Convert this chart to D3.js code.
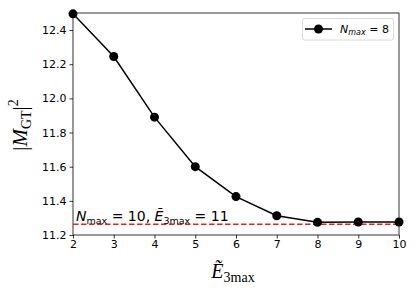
<!DOCTYPE html>
<html><head><meta charset="utf-8">
<script src="https://cdn.jsdelivr.net/npm/d3@7"></script>
<style>body{margin:0;background:#fff}svg{display:block}text{font-family:"DejaVu Sans",sans-serif}</style>
</head><body><svg id="c" width="415" height="294"></svg>
<script>
const e3max = [2,3,4,5,6,7,8,9,10];
const mgt2 = [12.495,12.245,11.89,11.60,11.425,11.313,11.274,11.276,11.276];
const refValue = 11.263;
const xTicks = [2,3,4,5,6,7,8,9,10];
const yTicks = [11.2,11.4,11.6,11.8,12.0,12.2,12.4];

const svg = d3.select("#c");
const L=73,R=399,T=13,B=235;
const x = d3.scaleLinear().domain([2,10]).range([L,R]);
const y = d3.scaleLinear().domain([11.2,12.5]).range([B,T]);

const xa = svg.append("g").attr("transform",`translate(0,${B})`)
  .call(d3.axisBottom(x).tickValues(xTicks).tickFormat(d3.format("d")).tickSize(3.5).tickPadding(2));
const ya = svg.append("g").attr("transform",`translate(${L},0)`)
  .call(d3.axisLeft(y).tickValues(yTicks).tickFormat(d3.format(".1f")).tickSize(3.5).tickPadding(3));
[xa,ya].forEach(a=>{a.selectAll("text").attr("font-size",11).attr("fill","#000").style("font-family","DejaVu Sans");
  a.select(".domain").remove(); a.selectAll("line").attr("stroke","#000").attr("stroke-width",0.8);});
svg.append("rect").attr("x",L).attr("y",T).attr("width",R-L).attr("height",B-T)
  .attr("fill","none").attr("stroke","#000").attr("stroke-width",0.8);

const g = svg.append("g");
g.append("line").attr("x1",x(2)).attr("x2",x(10)).attr("y1",y(refValue)).attr("y2",y(refValue))
  .attr("stroke","#e8201b").attr("stroke-width",1.5).attr("stroke-dasharray","5.5,2.5");
g.append("path").datum(e3max.map((d,i)=>[d,mgt2[i]]))
  .attr("d",d3.line().x(d=>x(d[0])).y(d=>y(d[1])))
  .attr("fill","none").attr("stroke","#000").attr("stroke-width",1.5);
g.selectAll("circle").data(e3max).join("circle")
  .attr("cx",d=>x(d)).attr("cy",(d,i)=>y(mgt2[i])).attr("r",4.5).attr("fill","#000");

// annotation
const ann = svg.append("text").attr("x",76).attr("y",221).attr("font-size",14).attr("fill","#000");
ann.append("tspan").attr("font-style","italic").text("N");
ann.append("tspan").attr("font-size",9.5).attr("dy",2.5).text("max");
ann.append("tspan").attr("dy",-2.5).text(" = 10, ");
ann.append("tspan").attr("font-style","italic").text("Ẽ");
ann.append("tspan").attr("font-size",9.5).attr("dy",2.5).text("3max");
ann.append("tspan").attr("dy",-2.5).text(" = 11");

// legend
svg.append("rect").attr("x",302.5).attr("y",18.5).attr("width",91).attr("height",21.5).attr("rx",2)
  .attr("fill","#fff").attr("stroke","#d0d0d0").attr("stroke-width",0.8);
svg.append("line").attr("x1",305).attr("x2",332).attr("y1",29).attr("y2",29).attr("stroke","#000").attr("stroke-width",1.5);
svg.append("circle").attr("cx",318.5).attr("cy",29).attr("r",4.5).attr("fill","#000");
const lt = svg.append("text").attr("x",340).attr("y",33).attr("font-size",11).attr("fill","#000");
lt.append("tspan").attr("font-style","italic").text("N");
lt.append("tspan").attr("font-style","italic").attr("font-size",8).attr("dy",2).text("max");
lt.append("tspan").attr("dy",-2).text(" = 8");

// axis labels
const yl = svg.append("text").attr("transform","translate(27,125) rotate(-90)").attr("text-anchor","middle")
  .attr("font-size",21).attr("fill","#000").style("font-family","'Liberation Serif',serif");
yl.append("tspan").text("|");
yl.append("tspan").attr("font-style","italic").text("M");
yl.append("tspan").attr("font-size",14).attr("dy",4).text("GT");
yl.append("tspan").attr("dy",-4).text("|");
yl.append("tspan").attr("font-size",14).attr("dy",-9).text("2");

const xl = svg.append("text").attr("x",233).attr("y",278).attr("text-anchor","middle")
  .attr("font-size",20).attr("fill","#000").style("font-family","'Liberation Serif',serif");
xl.append("tspan").attr("font-style","italic").text("Ẽ");
xl.append("tspan").attr("font-size",14).attr("dy",4).text("3max");
</script></body></html>
